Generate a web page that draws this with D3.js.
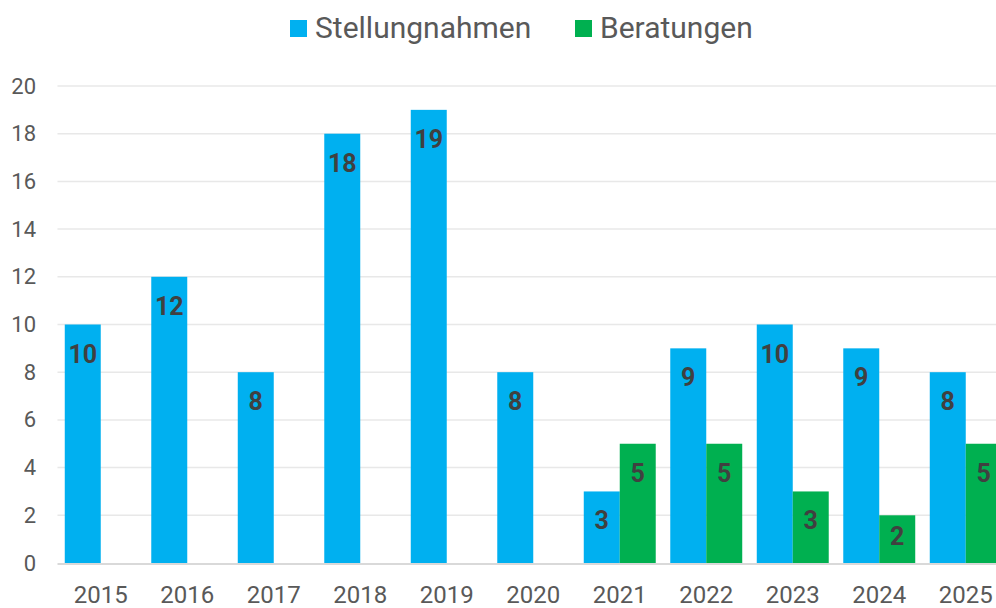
<!DOCTYPE html>
<html>
<head>
<meta charset="utf-8">
<script src="https://cdn.jsdelivr.net/npm/d3@7/dist/d3.min.js"></script>
<style>
  html, body { margin: 0; padding: 0; background: #fff; }
  svg { display: block; font-family: Roboto, "Noto Sans", sans-serif; }
</style>
</head>
<body>
<svg id="chart" width="996" height="608"></svg>
<script>
const years = ["2015","2016","2017","2018","2019","2020","2021","2022","2023","2024","2025"];
const seriesNames = ["Stellungnahmen", "Beratungen"];
const stellungnahmen = [10, 12, 8, 18, 19, 8, 3, 9, 10, 9, 8];
const beratungen = [null, null, null, null, null, null, 5, 5, 3, 2, 5];
const yTicks = [0, 2, 4, 6, 8, 10, 12, 14, 16, 18, 20];
const colors = ["#00B0F0", "#00B050"];

const svg = d3.select("#chart");
const mLeft = 57.5, mRight = 1009, mTop = 86, mBottom = 563;

const x = d3.scaleBand().domain(years).range([mLeft, mRight]).paddingInner(0.168).paddingOuter(0.084);
const xs = d3.scaleBand().domain(seriesNames).range([0, x.bandwidth()]);
const y = d3.scaleLinear().domain([0, 20]).range([mBottom, mTop]);

// gridlines
svg.append("g").selectAll("line").data(yTicks.filter(d => d > 0)).join("line")
  .attr("x1", mLeft).attr("x2", 996)
  .attr("y1", d => y(d)).attr("y2", d => y(d))
  .attr("stroke", "#e8e8e8").attr("stroke-width", 1.5);

// y axis labels
const yAxis = d3.axisLeft(y).tickValues(yTicks).tickSize(0).tickPadding(0);
const yg = svg.append("g").attr("transform", `translate(36,0)`).call(yAxis);
yg.select(".domain").remove();
yg.selectAll("text").attr("font-size", 22).attr("fill", "#595959").attr("font-family", "Roboto");

const data = years.map((yr, i) => ({ year: yr, values: [stellungnahmen[i], beratungen[i]] }));

const groups = svg.append("g").selectAll("g").data(data).join("g")
  .attr("transform", d => `translate(${x(d.year)},0)`);

const items = groups.selectAll("g").data(d => d.values.map((v, j) => ({ v, j })).filter(e => e.v != null)).join("g");
items.append("rect")
  .attr("x", e => xs(seriesNames[e.j]))
  .attr("width", xs.bandwidth())
  .attr("y", e => y(e.v))
  .attr("height", e => y(0) - y(e.v))
  .attr("fill", e => colors[e.j]);
items.append("text")
  .attr("x", e => xs(seriesNames[e.j]) + xs.bandwidth() / 2)
  .attr("y", e => Math.min(y(e.v) + 38, y(0) - 18))
  .attr("text-anchor", "middle")
  .attr("font-size", 25).attr("font-weight", "bold").attr("fill", "#404040")
  .text(e => e.v);

// x axis baseline
svg.append("line").attr("x1", mLeft).attr("x2", 996).attr("y1", mBottom + 1).attr("y2", mBottom + 1)
  .attr("stroke", "#d9d9d9").attr("stroke-width", 2);

const xAxis = d3.axisBottom(x).tickSize(0).tickPadding(0);
const xg = svg.append("g").attr("transform", `translate(0,${mBottom})`).call(xAxis);
xg.select(".domain").remove();
xg.selectAll("text").attr("font-size", 24).attr("fill", "#595959").attr("dy", null).attr("y", 40).attr("font-family", "Roboto");

// legend
const legend = svg.append("g");
const legItems = [{ name: seriesNames[0], c: colors[0], x: 290 }, { name: seriesNames[1], c: colors[1], x: 575 }];
legItems.forEach(l => {
  legend.append("rect").attr("x", l.x).attr("y", 20).attr("width", 17).attr("height", 17).attr("fill", l.c);
  legend.append("text").attr("x", l.x + 25).attr("y", 38).attr("font-size", 30).attr("fill", "#595959").text(l.name);
});
</script>
</body>
</html>
